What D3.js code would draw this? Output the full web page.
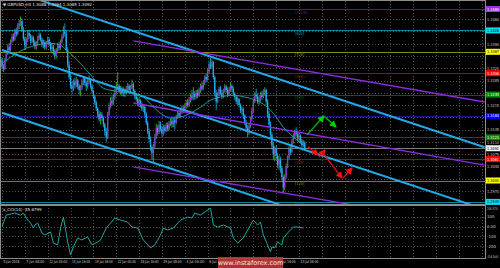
<!DOCTYPE html>
<html>
<head>
<meta charset="utf-8">
<script src="https://cdn.jsdelivr.net/npm/d3@7"></script>
<style>
html, body { margin: 0; padding: 0; background: #000; }
svg { display: block; }
text { font-family: "DejaVu Sans", sans-serif; }
</style>
</head>
<body>
<svg id="chart"></svg>
<script>
const WIDTH = 500
const HEIGHT = 268
const PLOT_RIGHT = 485
const MAIN_TOP = 1
const MAIN_BOTTOM = 204
const CCI_TOP = 206
const CCI_BOTTOM = 258
const BAR_STEP = 1.428

// data
const TITLE = '\u25BC GBPUSD,H4  1.3088 1.3094 1.3085 1.3092'
const CCI_TITLE = 'x_CCI(14) -45.6799'
const WATERMARK = 'www.instaforex.com'

const firstOpen = 1.3345
const closes = [
    1.3325, 1.3318, 1.3345, 1.3362, 1.3380, 1.3372, 1.3395, 1.3410, 1.3402, 1.3425,
    1.3418, 1.3440, 1.3448, 1.3455, 1.3430, 1.3405, 1.3385, 1.3400, 1.3420, 1.3412,
    1.3398, 1.3408, 1.3395, 1.3382, 1.3390, 1.3405, 1.3415, 1.3402, 1.3388, 1.3395,
    1.3380, 1.3392, 1.3402, 1.3390, 1.3375, 1.3382, 1.3368, 1.3355, 1.3372, 1.3385,
    1.3378, 1.3395, 1.3410, 1.3425, 1.3418, 1.3372, 1.3330, 1.3295, 1.3270, 1.3262,
    1.3280, 1.3272, 1.3285, 1.3270, 1.3258, 1.3265, 1.3280, 1.3292, 1.3278, 1.3268,
    1.3280, 1.3286, 1.3270, 1.3255, 1.3240, 1.3222, 1.3205, 1.3190, 1.3175, 1.3188,
    1.3178, 1.3160, 1.3140, 1.3125, 1.3190, 1.3210, 1.3228, 1.3220, 1.3238, 1.3250,
    1.3262, 1.3270, 1.3255, 1.3262, 1.3248, 1.3258, 1.3250, 1.3262, 1.3270, 1.3258,
    1.3265, 1.3275, 1.3255, 1.3240, 1.3232, 1.3220, 1.3228, 1.3215, 1.3205, 1.3210,
    1.3190, 1.3165, 1.3140, 1.3118, 1.3095, 1.3078, 1.3098, 1.3125, 1.3150, 1.3138,
    1.3160, 1.3148, 1.3135, 1.3152, 1.3142, 1.3158, 1.3148, 1.3162, 1.3170, 1.3160,
    1.3172, 1.3165, 1.3180, 1.3192, 1.3185, 1.3198, 1.3205, 1.3200, 1.3212, 1.3222,
    1.3215, 1.3228, 1.3240, 1.3235, 1.3248, 1.3238, 1.3250, 1.3242, 1.3258, 1.3270,
    1.3262, 1.3278, 1.3295, 1.3288, 1.3310, 1.3330, 1.3325, 1.3338, 1.3295, 1.3250,
    1.3225, 1.3245, 1.3262, 1.3250, 1.3240, 1.3255, 1.3268, 1.3258, 1.3245, 1.3260,
    1.3270, 1.3262, 1.3248, 1.3238, 1.3225, 1.3232, 1.3215, 1.3200, 1.3205, 1.3185,
    1.3165, 1.3150, 1.3140, 1.3155, 1.3175, 1.3200, 1.3225, 1.3245, 1.3240, 1.3225,
    1.3232, 1.3245, 1.3238, 1.3252, 1.3258, 1.3225, 1.3190, 1.3160, 1.3130, 1.3100,
    1.3075, 1.3092, 1.3070, 1.3045, 1.3060, 1.3035, 1.3010, 1.2980, 1.3010, 1.3040,
    1.3065, 1.3090, 1.3082, 1.3110, 1.3125, 1.3138, 1.3132, 1.3120, 1.3128, 1.3112,
    1.3100, 1.3108, 1.3092
]
const highs = [
    1.3352, 1.3332, 1.3350, 1.3370, 1.3388, 1.3392, 1.3402, 1.3418, 1.3420, 1.3432,
    1.3436, 1.3448, 1.3458, 1.3468, 1.3462, 1.3438, 1.3410, 1.3408, 1.3428, 1.3430,
    1.3418, 1.3415, 1.3412, 1.3400, 1.3398, 1.3412, 1.3422, 1.3420, 1.3408, 1.3402,
    1.3400, 1.3398, 1.3410, 1.3408, 1.3395, 1.3392, 1.3388, 1.3375, 1.3378, 1.3392,
    1.3395, 1.3402, 1.3418, 1.3440, 1.3448, 1.3425, 1.3380, 1.3340, 1.3305, 1.3282,
    1.3288, 1.3292, 1.3295, 1.3290, 1.3276, 1.3272, 1.3288, 1.3298, 1.3296, 1.3284,
    1.3290, 1.3300, 1.3290, 1.3275, 1.3258, 1.3245, 1.3228, 1.3210, 1.3198, 1.3195,
    1.3195, 1.3182, 1.3165, 1.3150, 1.3195, 1.3222, 1.3238, 1.3240, 1.3248, 1.3262,
    1.3280, 1.3309, 1.3275, 1.3270, 1.3268, 1.3266, 1.3262, 1.3270, 1.3278, 1.3275,
    1.3272, 1.3288, 1.3280, 1.3260, 1.3248, 1.3238, 1.3235, 1.3232, 1.3222, 1.3218,
    1.3215, 1.3195, 1.3170, 1.3148, 1.3125, 1.3100, 1.3105, 1.3132, 1.3162, 1.3158,
    1.3170, 1.3168, 1.3155, 1.3160, 1.3158, 1.3165, 1.3166, 1.3170, 1.3178, 1.3178,
    1.3180, 1.3178, 1.3188, 1.3198, 1.3200, 1.3205, 1.3215, 1.3212, 1.3220, 1.3230,
    1.3232, 1.3238, 1.3248, 1.3258, 1.3266, 1.3255, 1.3258, 1.3260, 1.3265, 1.3276,
    1.3280, 1.3286, 1.3300, 1.3305, 1.3318, 1.3338, 1.3349, 1.3345, 1.3340, 1.3300,
    1.3258, 1.3252, 1.3268, 1.3270, 1.3258, 1.3262, 1.3275, 1.3272, 1.3265, 1.3268,
    1.3280, 1.3276, 1.3268, 1.3252, 1.3242, 1.3240, 1.3235, 1.3220, 1.3212, 1.3208,
    1.3190, 1.3172, 1.3158, 1.3162, 1.3182, 1.3208, 1.3232, 1.3252, 1.3262, 1.3248,
    1.3240, 1.3252, 1.3255, 1.3260, 1.3266, 1.3262, 1.3232, 1.3198, 1.3168, 1.3138,
    1.3108, 1.3098, 1.3100, 1.3078, 1.3072, 1.3068, 1.3042, 1.3015, 1.3018, 1.3048,
    1.3072, 1.3098, 1.3100, 1.3118, 1.3135, 1.3145, 1.3152, 1.3140, 1.3136, 1.3132,
    1.3118, 1.3115, 1.3112
]
const lows = [
    1.3318, 1.3309, 1.3315, 1.3340, 1.3358, 1.3365, 1.3368, 1.3390, 1.3396, 1.3398,
    1.3410, 1.3414, 1.3432, 1.3440, 1.3425, 1.3398, 1.3372, 1.3378, 1.3395, 1.3405,
    1.3390, 1.3392, 1.3385, 1.3375, 1.3372, 1.3385, 1.3400, 1.3396, 1.3380, 1.3378,
    1.3372, 1.3374, 1.3388, 1.3384, 1.3368, 1.3362, 1.3358, 1.3345, 1.3348, 1.3365,
    1.3370, 1.3372, 1.3390, 1.3405, 1.3410, 1.3365, 1.3322, 1.3288, 1.3262, 1.3248,
    1.3255, 1.3262, 1.3266, 1.3260, 1.3245, 1.3240, 1.3258, 1.3272, 1.3270, 1.3255,
    1.3262, 1.3275, 1.3262, 1.3248, 1.3232, 1.3215, 1.3198, 1.3180, 1.3168, 1.3160,
    1.3170, 1.3152, 1.3128, 1.3109, 1.3118, 1.3185, 1.3205, 1.3212, 1.3215, 1.3230,
    1.3245, 1.3258, 1.3248, 1.3245, 1.3240, 1.3240, 1.3238, 1.3245, 1.3255, 1.3250,
    1.3250, 1.3260, 1.3250, 1.3232, 1.3225, 1.3212, 1.3210, 1.3208, 1.3198, 1.3195,
    1.3182, 1.3158, 1.3132, 1.3108, 1.3085, 1.3060, 1.3052, 1.3092, 1.3118, 1.3128,
    1.3132, 1.3140, 1.3125, 1.3128, 1.3135, 1.3138, 1.3140, 1.3142, 1.3155, 1.3150,
    1.3152, 1.3145, 1.3160, 1.3175, 1.3178, 1.3180, 1.3190, 1.3192, 1.3196, 1.3205,
    1.3208, 1.3210, 1.3222, 1.3228, 1.3230, 1.3230, 1.3232, 1.3235, 1.3238, 1.3250,
    1.3255, 1.3258, 1.3272, 1.3280, 1.3285, 1.3305, 1.3318, 1.3318, 1.3288, 1.3240,
    1.3201, 1.3220, 1.3240, 1.3244, 1.3232, 1.3235, 1.3250, 1.3250, 1.3238, 1.3242,
    1.3255, 1.3252, 1.3240, 1.3230, 1.3218, 1.3215, 1.3208, 1.3192, 1.3188, 1.3175,
    1.3158, 1.3138, 1.3124, 1.3130, 1.3150, 1.3170, 1.3195, 1.3220, 1.3232, 1.3218,
    1.3215, 1.3225, 1.3230, 1.3235, 1.3242, 1.3215, 1.3180, 1.3150, 1.3118, 1.3088,
    1.3060, 1.3055, 1.3060, 1.3035, 1.3030, 1.3022, 1.3000, 1.2964, 1.2972, 1.3005,
    1.3035, 1.3060, 1.3072, 1.3078, 1.3105, 1.3118, 1.3125, 1.3112, 1.3110, 1.3105,
    1.3092, 1.3095, 1.3088
]

const maBars = [0, 17, 24, 34, 41, 45, 55, 64, 71, 80, 90, 99, 104, 111, 118, 125, 132, 139, 146, 153, 162, 170, 181, 190, 197, 204, 212]
const maValues = [1.3334, 1.3377, 1.3386, 1.3391, 1.3386, 1.3372, 1.3334, 1.3292, 1.3263, 1.3255, 1.3249, 1.3238, 1.3218, 1.3192, 1.3178, 1.3181, 1.3192, 1.3209, 1.3229, 1.3238, 1.3243, 1.3238, 1.3223, 1.3192, 1.3152, 1.3124, 1.3099]

const cciBars = [
    0, 3, 9, 13, 15, 18, 20, 22, 23, 25,
    28, 30, 34, 36, 39, 41, 43, 46, 48, 50,
    53, 56, 60, 63, 67, 69, 73, 79, 83, 88,
    91, 95, 99, 104, 107, 111, 113, 116, 120, 125,
    130, 133, 135, 139, 142, 146, 148, 151, 155, 160,
    162, 165, 169, 172, 174, 176, 179, 181, 183, 186,
    188, 189, 191, 193, 196, 197, 200, 204, 207, 211
]
const cciValues = [
    0, 115, 135, 115, 135, 65, 35, -15, 15, 35,
    -65, -85, -55, -165, -185, -15, 95, -155, -285, -205,
    -115, -135, -105, -185, -155, -135, -15, 85, 65, 45,
    -5, -15, -135, -215, -185, -85, -15, -35, -15, 65,
    95, 85, 135, 115, 145, 185, 15, -5, 15, -15,
    -115, -165, -115, -35, 15, 65, 15, 45, -85, -185,
    -255, -205, -215, -155, -185, -115, -65, -5, -5, -15
]
const cciRange = [-316.3455, 206.3735]
const cciTicks = [100, 0, -100, -200]
const cciTickLabels = ['100', '0.00', '-100', '-200']

const timeLabels = ['5 Jun 2018', '7 Jun 08:00', '12 Jun 00:00', '14 Jun 16:00', '19 Jun 08:00', '22 Jun 00:00', '26 Jun 16:00',
    '29 Jun 08:00', '4 Jul 00:00', '6 Jul 16:00', '11 Jul 08:00', '16 Jul 00:00', '18 Jul 16:00', '23 Jul 08:00']
const priceTicks = [1.3460, 1.3425, 1.3390, 1.3355, 1.3320, 1.3285, 1.3250, 1.3215, 1.3180, 1.3145, 1.3110, 1.3075, 1.3040, 1.3005, 1.2970]

const murrayLevels = [1.3489, 1.3428, 1.3367, 1.3306, 1.3245, 1.3184, 1.3123, 1.3061, 1.3000, 1.2939]
const murrayNames = ['[+1/8]', '[8/8]', '[7/8]', '[6/8]', '[5/8]', '[4/8]', '[3/8]', '[2/8]', '[1/8]', '[0/8]']
const lastPrice = 1.3092

// trend lines as [bar1, price1, bar2, price2]
const blueChannel = [[0, 1.3550, 338, 1.3095], [0, 1.3372, 338, 1.2918], [0, 1.3193, 338, 1.2738]]
const purpleChannel = [[92, 1.3398, 338, 1.3224], [92, 1.3221, 338, 1.3044], [92, 1.3039, 338, 1.2865]]
const greenArrows = [[213.6, 1.3130, 225.5, 1.3184], [226.2, 1.3181, 233.9, 1.3153]]
const redArrows = [[214.3, 1.3096, 221.3, 1.3073], [222, 1.3067, 226.2, 1.3087], [224.1, 1.3082, 238.1, 1.3007], [238.8, 1.3007, 245.1, 1.3036]]

// styles
const MURRAY_LINE = ['#5e1788', '#08899a', '#8a8a12', '#960e0e', '#0a5a0a', '#14148c', '#0a5a0a', '#9c0e0e', '#7c7c10', '#08899a']
const MURRAY_BOX = ['#9b30e8', '#00e0f0', '#ffff00', '#ff0000', '#008800', '#0000ff', '#008800', '#ff0000', '#ffff00', '#00e0f0']
const MURRAY_BOX_TEXT = ['#fff', '#000', '#000', '#fff', '#fff', '#fff', '#fff', '#fff', '#000', '#000']
const GRID_COLOR = '#505050'
const FRAME_COLOR = '#8c8c8c'
const TEXT_COLOR = '#c8c8c8'
const TAG_TEXT_WIDTH = 12

const svg = d3.select('#chart').attr('width', WIDTH).attr('height', HEIGHT)

const x = d3.scaleLinear().domain([0, 16]).range([2, 2 + 16 * BAR_STEP])
const y = d3.scaleLinear().domain([1.2933, 1.3509]).range([MAIN_BOTTOM, 2])
const yCci = d3.scaleLinear().domain(cciRange).range([CCI_BOTTOM, CCI_TOP])

initDefs()
drawGrid()
drawLevels()
drawCandles()
drawLines()
drawCci()
drawAxes()
drawFrame()
drawLabels()

function initDefs() {
    const defs = svg.append('defs')
    defs.append('clipPath').attr('id', 'main-clip')
        .append('rect')
        .attr('x', 0).attr('y', MAIN_TOP)
        .attr('width', PLOT_RIGHT).attr('height', MAIN_BOTTOM - MAIN_TOP)
    defs.append('clipPath').attr('id', 'cci-clip')
        .append('rect')
        .attr('x', 0).attr('y', CCI_TOP)
        .attr('width', PLOT_RIGHT).attr('height', CCI_BOTTOM - CCI_TOP)

    const addMarker = (id, color) => {
        defs.append('marker')
            .attr('id', id)
            .attr('markerUnits', 'userSpaceOnUse')
            .attr('markerWidth', 7).attr('markerHeight', 7)
            .attr('refX', 6).attr('refY', 3.5)
            .attr('orient', 'auto')
            .append('path')
            .attr('d', 'M0,0 L7,3.5 L0,7 Z')
            .attr('fill', color)
    }
    addMarker('arrow-green', '#00d000')
    addMarker('arrow-red', '#ff1010')
}

function drawGrid() {
    const grid = svg.append('g').attr('id', 'grid')
        .attr('stroke', GRID_COLOR)
        .attr('stroke-dasharray', '1,2')
        .attr('shape-rendering', 'crispEdges')

    const gridBars = d3.range(0, 340, 16)
    grid.selectAll('line.v')
        .data(gridBars)
        .join('line')
        .attr('class', 'v')
        .attr('x1', d => Math.round(x(d)) + 0.5)
        .attr('x2', d => Math.round(x(d)) + 0.5)
        .attr('y1', MAIN_TOP)
        .attr('y2', CCI_BOTTOM)

    grid.selectAll('line.h')
        .data(priceTicks)
        .join('line')
        .attr('class', 'h')
        .attr('x1', 0).attr('x2', PLOT_RIGHT)
        .attr('y1', d => Math.round(y(d)) + 0.5)
        .attr('y2', d => Math.round(y(d)) + 0.5)

    grid.selectAll('line.c')
        .data(cciTicks)
        .join('line')
        .attr('class', 'c')
        .attr('x1', 0).attr('x2', PLOT_RIGHT)
        .attr('y1', d => Math.round(yCci(d)) + 0.5)
        .attr('y2', d => Math.round(yCci(d)) + 0.5)
}

function drawLevels() {
    const g = svg.append('g').attr('id', 'murray').attr('clip-path', 'url(#main-clip)')
    g.selectAll('line')
        .data(murrayLevels)
        .join('line')
        .attr('x1', 0).attr('x2', PLOT_RIGHT)
        .attr('y1', d => Math.round(y(d)) + 0.5)
        .attr('y2', d => Math.round(y(d)) + 0.5)
        .attr('stroke', (d, i) => MURRAY_LINE[i])
        .attr('stroke-width', 1)

    g.selectAll('text')
        .data(murrayLevels)
        .join('text')
        .attr('x', x(205))
        .attr('y', d => y(d) + 4.5)
        .attr('fill', (d, i) => MURRAY_LINE[i])
        .attr('font-size', 4)
        .text((d, i) => murrayNames[i])

    // last price line
    g.append('line')
        .attr('x1', 0).attr('x2', PLOT_RIGHT)
        .attr('y1', Math.round(y(lastPrice)) + 0.5)
        .attr('y2', Math.round(y(lastPrice)) + 0.5)
        .attr('stroke', '#7a7a7a')
}

function drawCandles() {
    const candles = closes.map((c, i) => {
        const o = i === 0 ? firstOpen : closes[i - 1]
        return { i, o, c, h: Math.max(highs[i], o, c), l: Math.min(lows[i], o, c) }
    })

    const g = svg.append('g').attr('id', 'candles').attr('clip-path', 'url(#main-clip)')
    g.selectAll('line')
        .data(candles)
        .join('line')
        .attr('x1', d => x(d.i))
        .attr('x2', d => x(d.i))
        .attr('y1', d => y(d.h))
        .attr('y2', d => y(d.l))
        .attr('stroke', d => d.c >= d.o ? '#32cd32' : '#1fb4f0')
        .attr('stroke-width', 0.8)

    g.selectAll('rect')
        .data(candles)
        .join('rect')
        .attr('x', d => x(d.i) - 0.65)
        .attr('width', 1.3)
        .attr('y', d => y(Math.max(d.o, d.c)))
        .attr('height', d => Math.max(0.8, Math.abs(y(d.o) - y(d.c))))
        .attr('fill', d => d.c >= d.o ? '#9a2fe6' : '#1fb4f0')
}

function drawLines() {
    const g = svg.append('g').attr('id', 'lines').attr('clip-path', 'url(#main-clip)')

    g.selectAll('line.blue')
        .data(blueChannel)
        .join('line')
        .attr('class', 'blue')
        .attr('x1', d => x(d[0])).attr('y1', d => y(d[1]))
        .attr('x2', d => x(d[2])).attr('y2', d => y(d[3]))
        .attr('stroke', '#22a8e6')
        .attr('stroke-width', 2)

    g.selectAll('line.purple')
        .data(purpleChannel)
        .join('line')
        .attr('class', 'purple')
        .attr('x1', d => x(d[0])).attr('y1', d => y(d[1]))
        .attr('x2', d => x(d[2])).attr('y2', d => y(d[3]))
        .attr('stroke', '#8a2be2')
        .attr('stroke-width', 1.4)

    const ma = d3.line()
        .x((d, i) => x(maBars[i]))
        .y(d => y(d))
        .curve(d3.curveMonotoneX)
    g.append('path')
        .attr('d', ma(maValues))
        .attr('fill', 'none')
        .attr('stroke', '#1fa8a0')
        .attr('stroke-width', 0.9)

    g.selectAll('line.green-arrow')
        .data(greenArrows)
        .join('line')
        .attr('class', 'green-arrow')
        .attr('x1', d => x(d[0])).attr('y1', d => y(d[1]))
        .attr('x2', d => x(d[2])).attr('y2', d => y(d[3]))
        .attr('stroke', '#00b800')
        .attr('stroke-width', 1.3)
        .attr('marker-end', 'url(#arrow-green)')

    g.selectAll('line.red-arrow')
        .data(redArrows)
        .join('line')
        .attr('class', 'red-arrow')
        .attr('x1', d => x(d[0])).attr('y1', d => y(d[1]))
        .attr('x2', d => x(d[2])).attr('y2', d => y(d[3]))
        .attr('stroke', '#e01010')
        .attr('stroke-width', 1.3)
        .attr('marker-end', 'url(#arrow-red)')
}

function drawCci() {
    const line = d3.line()
        .x((d, i) => x(cciBars[i]))
        .y(d => yCci(d))
    svg.append('g').attr('clip-path', 'url(#cci-clip)')
        .append('path')
        .attr('d', line(cciValues))
        .attr('fill', 'none')
        .attr('stroke', '#1fa8a0')
        .attr('stroke-width', 1)
}

function drawAxes() {
    // price labels that sit under a coloured tag are hidden in the terminal
    const tagYs = murrayLevels.concat([lastPrice]).map(p => y(p))
    const visibleTicks = priceTicks.filter(t => tagYs.every(ty => Math.abs(ty - y(t)) > 4.5))

    const priceAxis = d3.axisRight(y)
        .tickValues(visibleTicks)
        .tickFormat(d3.format('.4f'))
        .tickSize(1)
        .tickPadding(1)
    const gp = svg.append('g')
        .attr('transform', `translate(${PLOT_RIGHT},0)`)
        .call(priceAxis)

    const cciAxis = d3.axisRight(yCci)
        .tickValues(cciTicks)
        .tickFormat((d, i) => cciTickLabels[i])
        .tickSize(1)
        .tickPadding(1)
    const gc = svg.append('g')
        .attr('transform', `translate(${PLOT_RIGHT},0)`)
        .call(cciAxis)

    const timeAxis = d3.axisBottom(x)
        .tickValues(timeLabels.map((d, i) => i * 16))
        .tickFormat((d, i) => timeLabels[i])
        .tickSize(1)
        .tickPadding(0)
    const gt = svg.append('g')
        .attr('transform', `translate(0,${CCI_BOTTOM})`)
        .call(timeAxis)

    for (const g of [gp, gc, gt]) {
        g.select('.domain').remove()
        g.selectAll('line').attr('stroke', FRAME_COLOR)
        g.selectAll('text')
            .attr('fill', TEXT_COLOR)
            .attr('font-size', 4)
            .attr('font-family', '"DejaVu Sans", sans-serif')
    }
    gp.selectAll('text').attr('textLength', TAG_TEXT_WIDTH).attr('lengthAdjust', 'spacingAndGlyphs')
    gt.selectAll('text')
        .attr('text-anchor', 'start')
        .attr('dx', 1)
        .attr('dy', '1em')
        .attr('textLength', (d, i) => i === 0 ? 16 : 18)
        .attr('lengthAdjust', 'spacingAndGlyphs')

    // extremes of the indicator window
    svg.append('text')
        .attr('x', PLOT_RIGHT + 2).attr('y', CCI_TOP + 4)
        .attr('fill', TEXT_COLOR).attr('font-size', 3.6)
        .attr('textLength', 11).attr('lengthAdjust', 'spacingAndGlyphs')
        .text(cciRange[1].toFixed(4))
    svg.append('text')
        .attr('x', PLOT_RIGHT + 2).attr('y', CCI_BOTTOM)
        .attr('fill', TEXT_COLOR).attr('font-size', 3.6)
        .attr('textLength', 11.5).attr('lengthAdjust', 'spacingAndGlyphs')
        .text(cciRange[0].toFixed(4))
}

function drawFrame() {
    const g = svg.append('g').attr('stroke', FRAME_COLOR).attr('shape-rendering', 'crispEdges')
    g.append('line').attr('x1', PLOT_RIGHT + 0.5).attr('x2', PLOT_RIGHT + 0.5).attr('y1', 0).attr('y2', CCI_BOTTOM + 1)
    g.append('line').attr('x1', 0.5).attr('x2', 0.5).attr('y1', 0).attr('y2', CCI_BOTTOM + 1)
    g.append('line').attr('x1', 0).attr('x2', PLOT_RIGHT).attr('y1', 0.5).attr('y2', 0.5)
    g.append('line').attr('x1', 0).attr('x2', PLOT_RIGHT).attr('y1', MAIN_BOTTOM + 0.5).attr('y2', MAIN_BOTTOM + 0.5)
    g.append('line').attr('x1', 0).attr('x2', PLOT_RIGHT).attr('y1', MAIN_BOTTOM + 1.5).attr('y2', MAIN_BOTTOM + 1.5)
    g.append('line').attr('x1', 0).attr('x2', PLOT_RIGHT).attr('y1', CCI_BOTTOM + 0.5).attr('y2', CCI_BOTTOM + 0.5)
}

function drawLabels() {
    // coloured price tags on the right
    const tags = murrayLevels.map((p, i) => ({ p, fill: MURRAY_BOX[i], color: MURRAY_BOX_TEXT[i] }))
    tags.push({ p: lastPrice, fill: '#f0f0f0', color: '#000' })

    const g = svg.append('g').attr('id', 'tags')
    g.selectAll('rect')
        .data(tags)
        .join('rect')
        .attr('x', PLOT_RIGHT + 1)
        .attr('y', d => y(d.p) - 3)
        .attr('width', WIDTH - PLOT_RIGHT - 1)
        .attr('height', 6)
        .attr('fill', d => d.fill)
    g.selectAll('text')
        .data(tags)
        .join('text')
        .attr('x', PLOT_RIGHT + 2)
        .attr('y', d => y(d.p) + 1.5)
        .attr('fill', d => d.color)
        .attr('font-size', 4)
        .attr('textLength', TAG_TEXT_WIDTH)
        .attr('lengthAdjust', 'spacingAndGlyphs')
        .text(d => d.p.toFixed(4))

    svg.append('text')
        .attr('x', 3).attr('y', 5.5)
        .attr('fill', '#e0e0e0').attr('font-size', 4)
        .text(TITLE)
    svg.append('text')
        .attr('x', 3).attr('y', CCI_TOP + 5)
        .attr('fill', '#e0e0e0').attr('font-size', 4)
        .text(CCI_TITLE)

    // watermark
    const wm = svg.append('g').attr('transform', `translate(218,257)`)
    wm.append('rect')
        .attr('width', 65).attr('height', 11)
        .attr('fill', '#c03a3a').attr('opacity', 0.88)
    wm.append('text')
        .attr('x', 32.5).attr('y', 8)
        .attr('text-anchor', 'middle')
        .attr('fill', '#f4e6e6').attr('font-size', 6.5)
        .text(WATERMARK)
}
</script>
</body>
</html>
